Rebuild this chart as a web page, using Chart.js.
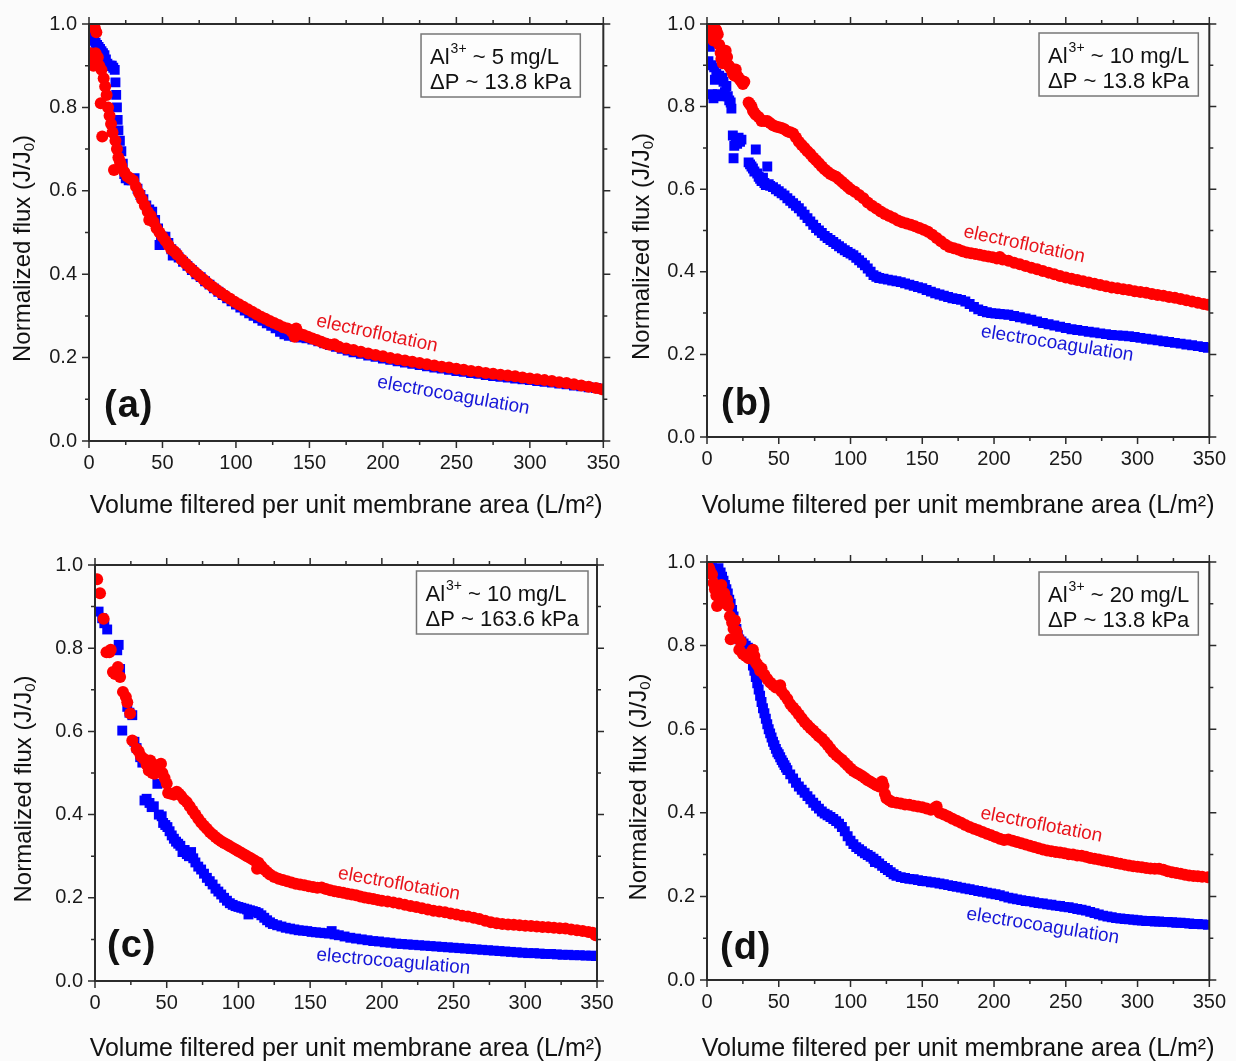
<!DOCTYPE html>
<html lang="en">
<head>
  <meta charset="UTF-8" />
  <title>Normalized flux vs volume filtered</title>
  <script src="https://cdn.jsdelivr.net/npm/chart.js"></script>
  <style>
    body {
      margin: 0;
      width: 1236px;
      height: 1061px;
      position: relative;
      overflow: hidden;
      background: #fbfbfb;
    }
    canvas { position: absolute; }
  </style>
</head>
<body>
  <canvas id="chartA" width="630" height="530" style="left:0;top:0"></canvas>
  <canvas id="chartB" width="618" height="530" style="left:618px;top:0"></canvas>
  <canvas id="chartC" width="630" height="531" style="left:0;top:530px"></canvas>
  <canvas id="chartD" width="618" height="531" style="left:618px;top:530px"></canvas>

  <script>
    const FONT = "'Liberation Sans', Arial, sans-serif";

    // axis ticks
    const xTickValues = [0, 50, 100, 150, 200, 250, 300, 350];
    const xMinorTicks = [25, 75, 125, 175, 225, 275, 325];
    const yTickValues = [0, 0.2, 0.4, 0.6, 0.8, 1.0];
    const yMinorTicks = [0.1, 0.3, 0.5, 0.7, 0.9];

    // (a) Al ~ 5 mg/L, dP ~ 13.8 kPa
    const aFlotation = [[1,0.93],[2,0.91],[3,0.90],[4,0.99],[4.5,0.93],[5,0.98],[6,0.92],[7,0.90],[8,0.81],[8.5,0.89],[9,0.73],[10,0.87],
      [11,0.85],[12,0.83],[13,0.80],[14,0.78],[15,0.76],[16,0.74],[17,0.65],[18,0.72],[19,0.70],[20,0.68],[21,0.67],[22,0.66],[24,0.645],
      [26,0.635],[28,0.63],[30,0.625],[32,0.61],[34,0.595],[36,0.58],[38,0.565],[40,0.55],[41,0.53],[42,0.54],[44,0.525],[46,0.51],[48,0.50],
      [50,0.49],[52,0.48],[54,0.47],[56,0.46],[58,0.455],[60,0.447],[63,0.435],[66,0.425],[69,0.415],[72,0.405],[75,0.396],[78,0.387],
      [81,0.378],[84,0.37],[87,0.362],[90,0.355],[93,0.348],[96,0.341],[99,0.334],[102,0.328],[105,0.322],[108,0.316],[111,0.31],[114,0.304],
      [117,0.298],[120,0.293],[123,0.288],[126,0.283],[129,0.278],[132,0.273],[135,0.27],[138,0.262],[140,0.25],[141,0.27],[143,0.258],
      [146,0.254],[149,0.25],[152,0.246],[155,0.242],[158,0.238],[161,0.234],[164,0.231],[167,0.232],[170,0.226],[175,0.222],[180,0.218],
      [185,0.214],[190,0.21],[195,0.206],[200,0.203],[205,0.199],[210,0.196],[215,0.193],[220,0.19],[225,0.187],[230,0.184],[235,0.181],
      [240,0.178],[245,0.176],[250,0.173],[255,0.171],[260,0.168],[265,0.166],[270,0.163],[275,0.161],[280,0.159],[285,0.157],[290,0.155],
      [295,0.152],[300,0.15],[305,0.148],[310,0.146],[315,0.144],[320,0.141],[325,0.139],[330,0.136],[335,0.133],[340,0.13],[345,0.127],[349,0.124]];
    const aCoagulation = [[0.5,0.98],[1.5,0.975],[2.5,0.97],[3.5,0.96],[4.5,0.955],[5.5,0.95],[6.5,0.945],[7.5,0.94],[8.5,0.935],[9.5,0.93],
      [10.5,0.925],[11.5,0.915],[12.5,0.905],[13.5,0.9],[14.5,0.9],[15.5,0.9],[16.5,0.895],[17.5,0.89],[18,0.86],[18.5,0.83],[19,0.8],
      [19.5,0.77],[20,0.745],[21,0.72],[22,0.695],[23,0.665],[24,0.64],[25,0.63],[27,0.625],[29,0.625],[31,0.63],[33,0.605],[35,0.59],
      [37,0.58],[39,0.565],[41,0.555],[43,0.55],[45,0.53],[47,0.51],[48,0.47],[49,0.49],[50,0.49],[52,0.49],[54,0.475],[56,0.46],[57,0.445],
      [59,0.45],[61,0.44],[64,0.43],[67,0.42],[70,0.41],[73,0.4],[76,0.393],[79,0.383],[82,0.375],[85,0.366],[88,0.358],[91,0.35],[94,0.342],
      [97,0.335],[100,0.327],[103,0.32],[106,0.313],[109,0.306],[112,0.3],[115,0.294],[118,0.288],[121,0.282],[124,0.276],[127,0.27],
      [130,0.262],[133,0.256],[136,0.252],[140,0.25],[144,0.248],[148,0.246],[152,0.243],[156,0.239],[160,0.234],[164,0.23],[168,0.226],
      [172,0.221],[176,0.217],[180,0.213],[185,0.209],[190,0.205],[195,0.202],[200,0.198],[205,0.195],[210,0.191],[215,0.188],[220,0.185],
      [225,0.182],[230,0.179],[235,0.176],[240,0.174],[245,0.171],[250,0.168],[255,0.166],[260,0.163],[265,0.161],[270,0.158],[275,0.156],
      [280,0.154],[285,0.152],[290,0.15],[295,0.148],[300,0.146],[305,0.144],[310,0.142],[315,0.14],[320,0.138],[325,0.136],[330,0.133],
      [335,0.131],[340,0.129],[345,0.127],[349,0.125]];

    // (b) Al ~ 10 mg/L, dP ~ 13.8 kPa
    const bFlotation = [[0.5,0.99],[1.5,0.98],[2.5,0.985],[3.5,0.975],[4.5,0.96],[5.5,0.99],[6.5,0.985],[7.5,0.975],[8.5,0.95],[9.5,0.93],
      [10,0.915],[11,0.905],[12,0.93],[13,0.935],[14,0.92],[15,0.9],[16,0.895],[17,0.89],[18,0.88],[19,0.875],[20,0.89],[21,0.875],[22,0.87],
      [23,0.865],[24,0.86],[25,0.855],[26,0.86],[29,0.81],[30,0.805],[31,0.8],[32,0.79],[33,0.785],[34,0.78],[36,0.775],[38,0.765],[40,0.765],
      [42,0.765],[44,0.76],[46,0.755],[48,0.752],[50,0.75],[52,0.748],[54,0.745],[56,0.74],[58,0.738],[60,0.735],[62,0.725],[64,0.715],
      [66,0.707],[68,0.7],[70,0.692],[72,0.685],[74,0.677],[76,0.67],[78,0.663],[80,0.655],[82,0.648],[84,0.642],[86,0.637],[88,0.633],
      [90,0.63],[92,0.624],[94,0.618],[96,0.612],[98,0.606],[100,0.6],[103,0.594],[106,0.586],[109,0.578],[112,0.568],[115,0.56],[118,0.553],
      [121,0.546],[124,0.54],[127,0.535],[130,0.53],[133,0.524],[136,0.52],[139,0.517],[142,0.514],[145,0.51],[148,0.506],[151,0.502],
      [154,0.497],[157,0.49],[160,0.482],[163,0.474],[166,0.466],[169,0.46],[172,0.457],[175,0.454],[178,0.45],[181,0.447],[184,0.445],
      [187,0.443],[190,0.441],[193,0.439],[196,0.437],[199,0.435],[202,0.432],[204,0.436],[206,0.43],[210,0.427],[214,0.422],[218,0.418],
      [222,0.414],[226,0.41],[230,0.406],[234,0.402],[238,0.398],[242,0.394],[246,0.39],[250,0.386],[254,0.383],[258,0.38],[262,0.377],
      [266,0.374],[270,0.371],[274,0.368],[278,0.365],[282,0.362],[286,0.36],[290,0.358],[294,0.356],[298,0.353],[302,0.351],[306,0.349],
      [310,0.346],[314,0.344],[318,0.342],[322,0.339],[326,0.337],[330,0.334],[334,0.331],[338,0.328],[342,0.325],[346,0.322],[349,0.32]];
    const bCoagulation = [[0.5,0.95],[1,0.91],[2,0.945],[3,0.9],[3.5,0.83],[4.5,0.82],[5,0.895],[5.5,0.865],[6.5,0.88],[7.5,0.83],[8.5,0.875],
      [9.5,0.825],[10.5,0.87],[11.5,0.86],[12.5,0.835],[13.5,0.85],[14.5,0.825],[15.5,0.815],[16.5,0.81],[17,0.795],[18,0.73],[18.5,0.675],
      [19,0.705],[20,0.72],[21,0.71],[22,0.725],[23,0.715],[24,0.72],[29,0.665],[30,0.66],[31,0.655],[32,0.65],[33,0.643],[34,0.696],
      [35,0.638],[36,0.63],[37,0.625],[38,0.62],[39,0.628],[40,0.615],[41,0.61],[42,0.655],[43,0.612],[44,0.608],[46,0.605],[48,0.6],
      [50,0.595],[52,0.59],[54,0.585],[56,0.578],[58,0.572],[60,0.566],[62,0.56],[64,0.554],[66,0.546],[68,0.538],[70,0.53],[72,0.522],
      [74,0.514],[76,0.506],[78,0.5],[80,0.494],[82,0.487],[84,0.482],[86,0.477],[88,0.472],[90,0.467],[92,0.462],[94,0.457],[96,0.452],
      [98,0.448],[100,0.444],[102,0.44],[104,0.434],[106,0.428],[108,0.422],[110,0.416],[112,0.408],[114,0.4],[116,0.392],[118,0.388],
      [120,0.385],[123,0.383],[126,0.381],[129,0.379],[132,0.377],[135,0.375],[138,0.372],[141,0.369],[144,0.366],[147,0.363],[150,0.36],
      [153,0.356],[156,0.352],[159,0.348],[162,0.345],[165,0.342],[168,0.339],[171,0.336],[174,0.334],[177,0.332],[180,0.328],[183,0.322],
      [186,0.315],[189,0.309],[192,0.305],[195,0.302],[198,0.3],[201,0.299],[204,0.298],[207,0.297],[210,0.296],[214,0.293],[218,0.29],
      [222,0.287],[226,0.284],[230,0.28],[234,0.276],[238,0.273],[242,0.27],[246,0.267],[250,0.264],[254,0.261],[258,0.259],[262,0.257],
      [266,0.255],[270,0.253],[274,0.251],[278,0.249],[282,0.247],[286,0.246],[290,0.245],[294,0.244],[298,0.242],[302,0.24],[306,0.238],
      [310,0.236],[314,0.234],[318,0.232],[322,0.23],[326,0.228],[330,0.226],[334,0.224],[338,0.222],[342,0.22],[346,0.218],[349,0.216]];

    // (c) Al ~ 10 mg/L, dP ~ 163.6 kPa
    const cFlotation = [[1.5,0.966],[3.5,0.932],[6,0.871],[8,0.79],[10,0.79],[11,0.796],[12.5,0.743],[14,0.738],[16,0.755],[17.5,0.731],
      [19.5,0.695],[21.5,0.683],[22.5,0.67],[24.5,0.643],[26,0.578],[29,0.558],[30.5,0.552],[32,0.54],[34,0.534],[36,0.52],[37.5,0.506],
      [38.5,0.53],[40,0.5],[41.5,0.498],[43,0.51],[44.5,0.52],[46,0.522],[47,0.5],[48.5,0.488],[50,0.475],[51,0.452],[53,0.45],[55,0.448],
      [57,0.455],[58.5,0.45],[60,0.445],[62,0.436],[64,0.43],[66,0.42],[68,0.41],[70,0.4],[72,0.39],[74,0.381],[76,0.373],[78,0.366],
      [80,0.358],[82,0.352],[84,0.346],[86,0.341],[88,0.336],[90,0.332],[92,0.328],[94,0.324],[96,0.32],[98,0.316],[100,0.312],[102,0.308],
      [104,0.304],[106,0.3],[108,0.296],[110,0.292],[112,0.288],[113,0.27],[114,0.284],[116,0.276],[118,0.268],[120,0.262],[122,0.256],
      [125,0.25],[128,0.246],[131,0.243],[134,0.24],[137,0.237],[140,0.234],[143,0.232],[146,0.23],[149,0.228],[152,0.226],[155,0.224],
      [158,0.225],[161,0.221],[164,0.218],[167,0.216],[170,0.214],[173,0.212],[176,0.21],[179,0.208],[182,0.206],[185,0.203],[188,0.201],
      [191,0.199],[194,0.197],[197,0.195],[200,0.193],[204,0.191],[208,0.189],[212,0.186],[216,0.183],[220,0.18],[224,0.178],[228,0.175],
      [232,0.172],[236,0.169],[240,0.167],[244,0.165],[248,0.162],[252,0.16],[256,0.157],[260,0.155],[264,0.152],[268,0.149],[272,0.145],
      [276,0.141],[280,0.139],[284,0.137],[288,0.136],[292,0.135],[296,0.134],[300,0.133],[304,0.132],[308,0.131],[312,0.13],[316,0.129],
      [320,0.128],[324,0.127],[328,0.126],[332,0.124],[336,0.122],[340,0.12],[344,0.118],[347,0.116],[349,0.11]];
    const cCoagulation = [[2.5,0.888],[5,0.872],[6.5,0.86],[8.5,0.845],[15.5,0.795],[16.5,0.808],[17.5,0.75],[19,0.602],[22.5,0.659],
      [24,0.645],[26,0.639],[27.5,0.575],[29,0.56],[31.5,0.538],[33,0.525],[34.5,0.434],[36,0.438],[38,0.428],[39.5,0.418],[41,0.42],
      [43.5,0.474],[44.5,0.4],[46.5,0.396],[47.5,0.38],[49,0.375],[50.5,0.37],[52,0.36],[53.5,0.35],[55,0.342],[56.5,0.335],[58,0.33],
      [59.5,0.325],[61,0.31],[62.5,0.315],[64,0.305],[65.5,0.3],[67,0.31],[68.5,0.295],[70,0.285],[72,0.275],[74,0.268],[76,0.258],
      [78,0.248],[80,0.24],[82,0.232],[84,0.222],[86,0.215],[88,0.208],[90,0.2],[92,0.193],[94,0.187],[96,0.183],[98,0.18],[100,0.178],
      [102,0.176],[104,0.174],[106,0.172],[107,0.16],[108,0.17],[110,0.168],[112,0.166],[114,0.163],[116,0.158],[118,0.152],[120,0.146],
      [122,0.141],[124,0.137],[127,0.134],[130,0.131],[133,0.128],[136,0.126],[139,0.124],[142,0.122],[145,0.121],[148,0.12],[151,0.118],
      [154,0.117],[157,0.116],[160,0.115],[163,0.114],[165,0.12],[167,0.112],[170,0.11],[174,0.107],[178,0.104],[182,0.102],[186,0.1],
      [190,0.098],[194,0.096],[198,0.095],[202,0.093],[206,0.092],[210,0.09],[214,0.089],[218,0.088],[222,0.087],[226,0.086],[230,0.085],
      [234,0.084],[238,0.083],[242,0.082],[246,0.081],[250,0.08],[254,0.079],[258,0.078],[262,0.077],[266,0.076],[270,0.075],[274,0.074],
      [278,0.073],[282,0.072],[286,0.071],[290,0.07],[294,0.069],[298,0.068],[302,0.067],[306,0.067],[310,0.066],[314,0.065],[318,0.065],
      [322,0.064],[326,0.063],[330,0.063],[334,0.062],[338,0.062],[342,0.061],[346,0.061],[349,0.06]];

    // (d) Al ~ 20 mg/L, dP ~ 13.8 kPa
    const dFlotation = [[0.5,0.99],[1.5,0.985],[2.5,0.975],[3.5,0.97],[4.5,0.95],[5.5,0.935],[6.5,0.92],[7,0.895],[8,0.94],[9,0.93],
      [10,0.945],[11,0.915],[12,0.925],[13,0.9],[14,0.91],[15,0.895],[16,0.87],[16.5,0.815],[17.5,0.855],[18.5,0.84],[19.5,0.86],
      [20.5,0.835],[21.5,0.82],[22.5,0.79],[23.5,0.81],[25,0.78],[27,0.775],[29,0.77],[31,0.785],[32,0.79],[33,0.775],[34,0.76],[35,0.755],
      [36,0.75],[37,0.74],[38,0.745],[40,0.73],[42,0.72],[44,0.712],[46,0.706],[48,0.7],[50,0.7],[51,0.705],[52,0.69],[54,0.682],[56,0.672],
      [58,0.66],[60,0.652],[62,0.644],[64,0.635],[66,0.626],[68,0.617],[70,0.61],[72,0.603],[74,0.597],[76,0.59],[78,0.583],[80,0.578],
      [82,0.57],[84,0.562],[86,0.553],[88,0.545],[90,0.538],[92,0.532],[94,0.527],[96,0.52],[98,0.513],[100,0.506],[102,0.5],[104,0.496],
      [106,0.492],[108,0.488],[110,0.483],[112,0.478],[114,0.474],[116,0.47],[118,0.466],[120,0.463],[122,0.475],[123,0.465],[124,0.445],
      [125,0.435],[127,0.43],[129,0.426],[132,0.424],[135,0.422],[138,0.42],[141,0.419],[144,0.417],[147,0.415],[150,0.413],[153,0.41],
      [156,0.407],[158,0.41],[160,0.415],[162,0.4],[165,0.396],[168,0.391],[171,0.386],[174,0.381],[177,0.376],[180,0.371],[183,0.366],
      [186,0.362],[189,0.358],[192,0.354],[195,0.35],[198,0.346],[201,0.342],[204,0.338],[207,0.335],[210,0.336],[213,0.333],[216,0.33],
      [219,0.327],[222,0.324],[225,0.321],[228,0.318],[231,0.315],[234,0.312],[237,0.31],[240,0.308],[243,0.306],[246,0.305],[249,0.303],
      [252,0.301],[255,0.3],[258,0.298],[261,0.297],[264,0.295],[267,0.292],[270,0.29],[273,0.288],[276,0.286],[279,0.284],[282,0.282],
      [285,0.28],[288,0.278],[291,0.276],[294,0.274],[297,0.272],[300,0.271],[303,0.27],[306,0.268],[309,0.267],[312,0.266],[315,0.266],
      [318,0.264],[321,0.26],[324,0.258],[327,0.256],[330,0.254],[333,0.252],[336,0.25],[339,0.249],[342,0.248],[345,0.247],[349,0.246]];
    const dCoagulation = [[0.5,0.99],[2,0.985],[3.5,0.985],[5,0.98],[6.5,0.98],[8,0.985],[9.5,0.975],[10.5,0.965],[11.5,0.955],[12.5,0.945],
      [13.5,0.935],[14.5,0.925],[15.5,0.91],[16.5,0.9],[17.5,0.885],[18.5,0.87],[19.5,0.855],[20.5,0.84],[21.5,0.825],[22.5,0.815],[24,0.81],
      [25.5,0.805],[27,0.8],[28.5,0.795],[30,0.785],[31,0.77],[32,0.752],[33,0.74],[34,0.725],[35,0.71],[36,0.695],[37,0.68],[38,0.665],
      [39,0.65],[40,0.638],[41,0.625],[42,0.612],[43,0.6],[44,0.59],[45,0.58],[46,0.57],[47,0.562],[48,0.553],[49,0.545],[50,0.54],
      [51,0.533],[52,0.526],[53,0.52],[54,0.514],[55,0.508],[56,0.502],[58,0.492],[60,0.482],[62,0.472],[64,0.463],[66,0.455],[68,0.448],
      [70,0.44],[72,0.432],[74,0.424],[76,0.417],[78,0.41],[80,0.403],[82,0.398],[84,0.394],[86,0.39],[88,0.385],[90,0.38],[92,0.374],
      [94,0.366],[96,0.356],[98,0.344],[100,0.333],[102,0.325],[104,0.318],[106,0.313],[108,0.308],[110,0.303],[112,0.299],[114,0.295],
      [116,0.29],[117,0.282],[118,0.285],[120,0.279],[122,0.273],[124,0.268],[126,0.263],[128,0.258],[130,0.253],[132,0.249],[135,0.246],
      [138,0.244],[141,0.242],[144,0.241],[147,0.239],[150,0.237],[153,0.236],[156,0.234],[159,0.233],[162,0.231],[165,0.229],[168,0.227],
      [171,0.225],[174,0.223],[177,0.221],[180,0.219],[183,0.217],[186,0.215],[189,0.213],[192,0.211],[195,0.209],[198,0.207],[201,0.205],
      [204,0.203],[207,0.2],[210,0.197],[213,0.195],[216,0.193],[219,0.191],[222,0.189],[225,0.188],[228,0.186],[231,0.184],[234,0.183],
      [237,0.181],[240,0.18],[243,0.178],[246,0.177],[249,0.175],[252,0.174],[255,0.172],[258,0.17],[261,0.168],[264,0.166],[267,0.163],
      [270,0.16],[273,0.157],[276,0.154],[279,0.152],[282,0.15],[285,0.148],[288,0.147],[291,0.146],[294,0.145],[297,0.144],[300,0.143],
      [303,0.142],[306,0.141],[309,0.141],[312,0.14],[315,0.14],[318,0.139],[321,0.139],[324,0.138],[327,0.137],[330,0.137],[333,0.136],
      [336,0.135],[339,0.134],[342,0.134],[345,0.133],[349,0.132]];

    const panels = [
      { id: 'chartA', tag: '(a)', flot: aFlotation, coag: aCoagulation, al: '5', dp: '13.8',
        pad: { left: 39, top: 19, right: 23, bottom: 49 }, box: [23, 10],
        flotLabel: [196, 0.257, 12], coagLabel: [248, 0.109, 10], yTitleX: 23, xTitleY: 513, tagPos: [15, 24] },
      { id: 'chartB', tag: '(b)', flot: bFlotation, coag: bCoagulation, al: '10', dp: '13.8',
        pad: { left: 39, top: 21, right: 25, bottom: 53 }, box: [11, 9],
        flotLabel: [221, 0.466, 12], coagLabel: [244, 0.226, 9], yTitleX: 24, xTitleY: 513, tagPos: [14, 22] },
      { id: 'chartC', tag: '(c)', flot: cFlotation, coag: cCoagulation, al: '10', dp: '163.6',
        pad: { left: 45, top: 35, right: 33, bottom: 40 }, box: [9, 6],
        flotLabel: [212, 0.233, 10], coagLabel: [208, 0.046, 5], yTitleX: 24, xTitleY: 526, tagPos: [12, 24] },
      { id: 'chartD', tag: '(d)', flot: dFlotation, coag: dCoagulation, al: '20', dp: '13.8',
        pad: { left: 39, top: 32, right: 25, bottom: 41 }, box: [11, 10],
        flotLabel: [233, 0.371, 11], coagLabel: [234, 0.129, 9], yTitleX: 21, xTitleY: 526, tagPos: [13, 21] }
    ];

    // frame, ticks, titles, note box, curve labels and panel tag
    const decor = {
      id: 'decor',
      afterDatasetsDraw(chart, args, p) {
        const { ctx, chartArea: a, scales: { x, y } } = chart;
        ctx.save();
        ctx.strokeStyle = '#2b2b2b';
        ctx.lineWidth = 2;
        ctx.strokeRect(a.left, a.top, a.right - a.left, a.bottom - a.top);

        ctx.lineWidth = 1.5;
        const xt = (v, len) => {
          const px = x.getPixelForValue(v);
          ctx.beginPath();
          ctx.moveTo(px, a.bottom); ctx.lineTo(px, a.bottom + len);
          ctx.moveTo(px, a.top); ctx.lineTo(px, a.top - len);
          ctx.stroke();
        };
        const yt = (v, len) => {
          const py = y.getPixelForValue(v);
          ctx.beginPath();
          ctx.moveTo(a.left, py); ctx.lineTo(a.left - len, py);
          ctx.moveTo(a.right, py); ctx.lineTo(a.right + len, py);
          ctx.stroke();
        };
        xTickValues.forEach(v => xt(v, 7));
        xMinorTicks.forEach(v => xt(v, 4));
        yTickValues.forEach(v => yt(v, 7));
        yMinorTicks.forEach(v => yt(v, 4));

        // axis titles
        ctx.fillStyle = '#111';
        ctx.textBaseline = 'alphabetic';
        ctx.textAlign = 'center';
        ctx.font = `25px ${FONT}`;
        ctx.fillText('Volume filtered per unit membrane area (L/m²)', (a.left + a.right) / 2, p.xTitleY);

        ctx.save();
        ctx.translate(p.yTitleX, (a.top + a.bottom) / 2 + 16);
        ctx.rotate(-Math.PI / 2);
        ctx.textAlign = 'left';
        ctx.textBaseline = 'middle';
        const t1 = 'Normalized flux (J/J', t2 = '0', t3 = ')';
        ctx.font = `15px ${FONT}`;
        const w2 = ctx.measureText(t2).width;
        ctx.font = `24px ${FONT}`;
        const w1 = ctx.measureText(t1).width, w3 = ctx.measureText(t3).width;
        let sx = -(w1 + w2 + w3) / 2;
        ctx.fillText(t1, sx, 0);
        ctx.font = `15px ${FONT}`;
        ctx.fillText(t2, sx + w1, 7);
        ctx.font = `24px ${FONT}`;
        ctx.fillText(t3, sx + w1 + w2, 0);
        ctx.restore();

        // note box
        const big = `22px ${FONT}`, small = `14px ${FONT}`;
        ctx.font = big;
        const l1a = 'Al', l1c = ` ~ ${p.al} mg/L`, l2 = `ΔP ~ ${p.dp} kPa`;
        const wa = ctx.measureText(l1a).width, wc = ctx.measureText(l1c).width, w2l = ctx.measureText(l2).width;
        ctx.font = small;
        const wb = ctx.measureText('3+').width;
        const bw = Math.max(wa + wb + wc, w2l) + 18, bh = 63;
        const bx = a.right - p.box[0] - bw, by = a.top + p.box[1];
        ctx.fillStyle = '#fdfdfd';
        ctx.fillRect(bx, by, bw, bh);
        ctx.strokeStyle = '#777';
        ctx.lineWidth = 1.5;
        ctx.strokeRect(bx, by, bw, bh);
        ctx.fillStyle = '#111';
        ctx.textAlign = 'left';
        ctx.textBaseline = 'alphabetic';
        ctx.font = big;
        ctx.fillText(l1a, bx + 9, by + 30);
        ctx.font = small;
        ctx.fillText('3+', bx + 9 + wa + 1, by + 19);
        ctx.font = big;
        ctx.fillText(l1c, bx + 9 + wa + wb + 1, by + 30);
        ctx.fillText(l2, bx + 9, by + 55);

        // curve labels
        const label = (txt, spec, color) => {
          ctx.save();
          ctx.translate(x.getPixelForValue(spec[0]), y.getPixelForValue(spec[1]));
          ctx.rotate(spec[2] * Math.PI / 180);
          ctx.font = `19px ${FONT}`;
          ctx.fillStyle = color;
          ctx.textAlign = 'center';
          ctx.textBaseline = 'middle';
          ctx.fillText(txt, 0, 0);
          ctx.restore();
        };
        label('electroflotation', p.flotLabel, '#e8141b');
        label('electrocoagulation', p.coagLabel, '#1616d8');

        // panel tag
        ctx.font = `bold 38px ${FONT}`;
        ctx.letterSpacing = '1px';
        ctx.fillStyle = '#111';
        ctx.textAlign = 'left';
        ctx.fillText(p.tag, a.left + p.tagPos[0], a.bottom - p.tagPos[1]);
        ctx.restore();
      }
    };

    panels.forEach(p => {
      new Chart(document.getElementById(p.id), {
        type: 'scatter',
        data: {
          datasets: [
            { label: 'electroflotation', data: p.flot, pointStyle: 'circle', pointRadius: 6,
              backgroundColor: '#ff0000', borderWidth: 0 },
            { label: 'electrocoagulation', data: p.coag, pointStyle: 'rect', pointRadius: 7,
              backgroundColor: '#0000ff', borderWidth: 0 }
          ]
        },
        options: {
          responsive: false,
          animation: false,
          events: [],
          layout: { padding: p.pad },
          plugins: {
            legend: { display: false },
            tooltip: { enabled: false },
            decor: p
          },
          scales: {
            x: {
              type: 'linear', min: 0, max: 350,
              grid: { display: false, drawTicks: false },
              border: { display: false },
              ticks: { padding: 10, color: '#1a1a1a', font: { family: FONT, size: 20 }, maxRotation: 0, autoSkip: false },
              afterBuildTicks: s => { s.ticks = xTickValues.map(v => ({ value: v })); },
              afterFit: s => { s.height = 40; }
            },
            y: {
              type: 'linear', min: 0, max: 1,
              grid: { display: false, drawTicks: false },
              border: { display: false },
              ticks: { padding: 12, color: '#1a1a1a', font: { family: FONT, size: 20 },
                callback: v => v.toFixed(1) },
              afterBuildTicks: s => { s.ticks = yTickValues.map(v => ({ value: v })); },
              afterFit: s => { s.width = 50; }
            }
          }
        },
        plugins: [decor]
      });
    });
  </script>
</body>
</html>
